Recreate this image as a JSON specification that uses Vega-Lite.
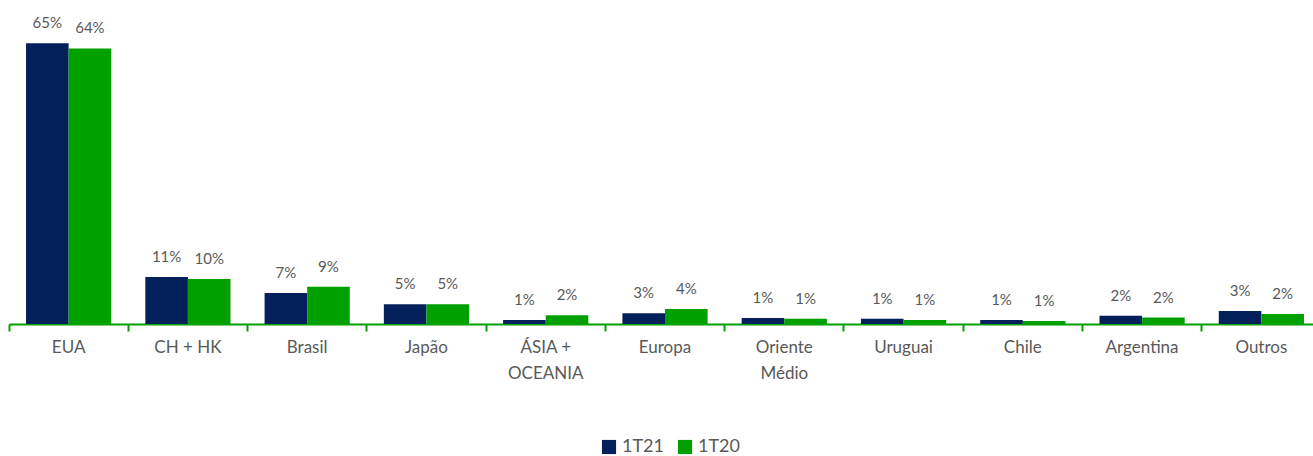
{
  "$schema": "https://vega.github.io/schema/vega-lite/v6.json",
  "autosize": {"type": "none"},
  "width": 1304,
  "height": 324,
  "padding": {"left": 9, "top": 0, "right": 0, "bottom": 132},
  "background": "white",
  "config": {"view": {"stroke": null}, "font": "Lato"},
  "data": {
    "values": [
      {"regiao": "EUA", "periodo": "1T21", "valor": 65.0, "rotulo": "65%"},
      {"regiao": "EUA", "periodo": "1T20", "valor": 63.8, "rotulo": "64%"},
      {"regiao": "CH + HK", "periodo": "1T21", "valor": 10.9, "rotulo": "11%"},
      {"regiao": "CH + HK", "periodo": "1T20", "valor": 10.4, "rotulo": "10%"},
      {"regiao": "Brasil", "periodo": "1T21", "valor": 7.2, "rotulo": "7%"},
      {"regiao": "Brasil", "periodo": "1T20", "valor": 8.6, "rotulo": "9%"},
      {"regiao": "Japão", "periodo": "1T21", "valor": 4.6, "rotulo": "5%"},
      {"regiao": "Japão", "periodo": "1T20", "valor": 4.6, "rotulo": "5%"},
      {"regiao": "ÁSIA + OCEANIA", "periodo": "1T21", "valor": 0.9, "rotulo": "1%"},
      {"regiao": "ÁSIA + OCEANIA", "periodo": "1T20", "valor": 2.0, "rotulo": "2%"},
      {"regiao": "Europa", "periodo": "1T21", "valor": 2.5, "rotulo": "3%"},
      {"regiao": "Europa", "periodo": "1T20", "valor": 3.5, "rotulo": "4%"},
      {"regiao": "Oriente Médio", "periodo": "1T21", "valor": 1.4, "rotulo": "1%"},
      {"regiao": "Oriente Médio", "periodo": "1T20", "valor": 1.2, "rotulo": "1%"},
      {"regiao": "Uruguai", "periodo": "1T21", "valor": 1.2, "rotulo": "1%"},
      {"regiao": "Uruguai", "periodo": "1T20", "valor": 0.9, "rotulo": "1%"},
      {"regiao": "Chile", "periodo": "1T21", "valor": 0.9, "rotulo": "1%"},
      {"regiao": "Chile", "periodo": "1T20", "valor": 0.7, "rotulo": "1%"},
      {"regiao": "Argentina", "periodo": "1T21", "valor": 1.9, "rotulo": "2%"},
      {"regiao": "Argentina", "periodo": "1T20", "valor": 1.5, "rotulo": "2%"},
      {"regiao": "Outros", "periodo": "1T21", "valor": 3.0, "rotulo": "3%"},
      {"regiao": "Outros", "periodo": "1T20", "valor": 2.3, "rotulo": "2%"}
    ]
  },
  "encoding": {
    "x": {
      "field": "regiao", "type": "nominal", "sort": null,
      "scale": {"paddingInner": 0, "paddingOuter": 0, "range": [0, 1312]},
      "axis": {
        "title": null, "labelAngle": 0, "labelFontSize": 17, "labelColor": "#595959",
        "labelLineHeight": 26, "labelPadding": 8, "labelBaseline": "top",
        "domainColor": "#00A000", "domainWidth": 2, "tickColor": "#00A000", "tickWidth": 2,
        "tickSize": 7, "bandPosition": 0,
        "labelExpr": "datum.label == 'ÁSIA + OCEANIA' ? ['ÁSIA +', 'OCEANIA'] : datum.label == 'Oriente Médio' ? ['Oriente', 'Médio'] : datum.label"
      }
    },
    "xOffset": {"field": "periodo", "type": "nominal", "sort": ["1T21", "1T20"], "scale": {"paddingInner": 0, "paddingOuter": 0.4}},
    "y": {"field": "valor", "type": "quantitative", "scale": {"domain": [0, 75]}, "axis": null}
  },
  "layer": [
    {
      "mark": {"type": "bar"},
      "encoding": {
        "color": {
          "field": "periodo", "type": "nominal", "sort": ["1T21", "1T20"],
          "scale": {"domain": ["1T21", "1T20"], "range": ["#03205A", "#00A000"]},
          "legend": {
            "title": null, "orient": "none", "direction": "horizontal",
            "legendX": 591, "legendY": 438, "symbolType": "square", "symbolSize": 200,
            "symbolStrokeWidth": 0, "labelFontSize": 18, "labelColor": "#595959",
            "columnPadding": 12, "labelOffset": 4
          }
        }
      }
    },
    {
      "mark": {"type": "text", "baseline": "bottom", "dy": -12, "fontSize": 15, "color": "#595959"},
      "encoding": {"text": {"field": "rotulo"}}
    }
  ]
}
